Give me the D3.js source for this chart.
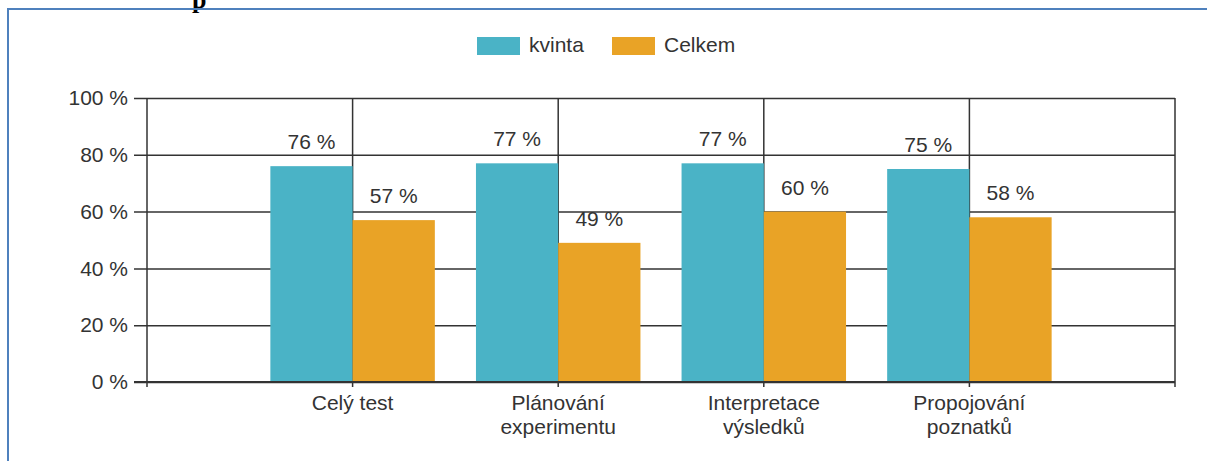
<!DOCTYPE html>
<html>
<head>
<meta charset="utf-8">
<script src="https://cdn.jsdelivr.net/npm/d3@7"></script>
<style>
  body { margin: 0; background: #fff; }
  svg { display: block; font-family: "Liberation Sans", Arial, sans-serif; }
</style>
</head>
<body>
<svg id="chart" width="1207" height="461"></svg>
<script>
var categories = [["Celý test"], ["Plánování", "experimentu"], ["Interpretace", "výsledků"], ["Propojování", "poznatků"]];
var kvinta = [76, 77, 77, 75];
var celkem = [57, 49, 60, 58];
var seriesNames = ["kvinta", "Celkem"];
var yTicks = [0, 20, 40, 60, 80, 100];

var svg = d3.select("#chart"),
    margin = {top: 98, right: 32, bottom: 79, left: 147},
    width = +svg.attr("width") - margin.left - margin.right,
    height = +svg.attr("height") - margin.top - margin.bottom;

var colors = ["#4ab3c6", "#e9a326"];
var ink = "#333";

// cut-off heading of the page above and the blue frame
svg.append("text")
    .attr("x", 192).attr("y", 8)
    .attr("font-family", "Liberation Serif, serif")
    .attr("font-weight", "bold")
    .attr("font-size", 26)
    .text("p");
svg.append("rect")
    .attr("x", 8).attr("y", 9)
    .attr("width", 1300).attr("height", 600)
    .attr("fill", "none")
    .attr("stroke", "#4f81bd")
    .attr("stroke-width", 2);

var g = svg.append("g")
    .attr("transform", "translate(" + margin.left + "," + margin.top + ")");

var x = d3.scaleLinear().domain([0, categories.length + 1]).range([0, width]);
var y = d3.scaleLinear().domain([0, 100]).range([height, 0]);
var barW = x(0.4) - x(0);

// horizontal grid with ticks on the left
g.append("g")
    .call(d3.axisLeft(y).tickValues(yTicks).tickSize(-width).tickPadding(19)
      .tickFormat(function(d) { return d + " %"; }))
    .call(function(a) {
      a.select(".domain").remove();
      a.selectAll(".tick line").attr("x1", -13).attr("stroke", ink).attr("stroke-width", 1.5);
      a.selectAll(".tick text").attr("font-size", 21).attr("fill", ink)
        .attr("font-family", "Liberation Sans, Arial, sans-serif");
    });

// vertical lines at every x position
g.append("g")
  .selectAll("line")
  .data(d3.range(categories.length + 2))
  .enter().append("line")
    .attr("x1", function(d) { return x(d); })
    .attr("x2", function(d) { return x(d); })
    .attr("y1", 0)
    .attr("y2", height + 5)
    .attr("stroke", ink)
    .attr("stroke-width", 1.5);

var series = [kvinta, celkem];
series.forEach(function(vals, s) {
  g.append("g")
    .selectAll("rect")
    .data(vals)
    .enter().append("rect")
      .attr("x", function(d, i) { return x(i + 1) - (s === 0 ? barW : 0); })
      .attr("y", function(d) { return y(d); })
      .attr("width", barW)
      .attr("height", function(d) { return height - y(d); })
      .attr("fill", colors[s]);

  g.append("g")
    .selectAll("text")
    .data(vals)
    .enter().append("text")
      .attr("x", function(d, i) { return x(i + 1) + (s === 0 ? -barW / 2 : barW / 2); })
      .attr("y", function(d) { return y(d) - 17; })
      .attr("text-anchor", "middle")
      .attr("font-size", 21)
      .attr("fill", ink)
      .text(function(d) { return d + " %"; });
});

// baseline
g.append("line")
    .attr("x1", -13).attr("x2", width)
    .attr("y1", height).attr("y2", height)
    .attr("stroke", ink).attr("stroke-width", 2);

// category labels
var cat = g.append("g")
  .selectAll("text")
  .data(categories)
  .enter().append("text")
    .attr("x", function(d, i) { return x(i + 1); })
    .attr("y", height + 28)
    .attr("text-anchor", "middle")
    .attr("font-size", 21)
    .attr("fill", ink);
cat.selectAll("tspan")
  .data(function(d) { return d; })
  .enter().append("tspan")
    .attr("x", function() { return d3.select(this.parentNode).attr("x"); })
    .attr("dy", function(d, i) { return i ? 24 : 0; })
    .text(function(d) { return d; });

// legend
var legendX = [477, 612];
var leg = svg.append("g")
  .selectAll("g")
  .data(seriesNames)
  .enter().append("g")
    .attr("transform", function(d, i) { return "translate(" + legendX[i] + ",37)"; });
leg.append("rect")
    .attr("width", 43).attr("height", 18)
    .attr("fill", function(d, i) { return colors[i]; });
leg.append("text")
    .attr("x", 52).attr("y", 15)
    .attr("font-size", 21)
    .attr("fill", ink)
    .text(function(d) { return d; });
</script>
</body>
</html>
